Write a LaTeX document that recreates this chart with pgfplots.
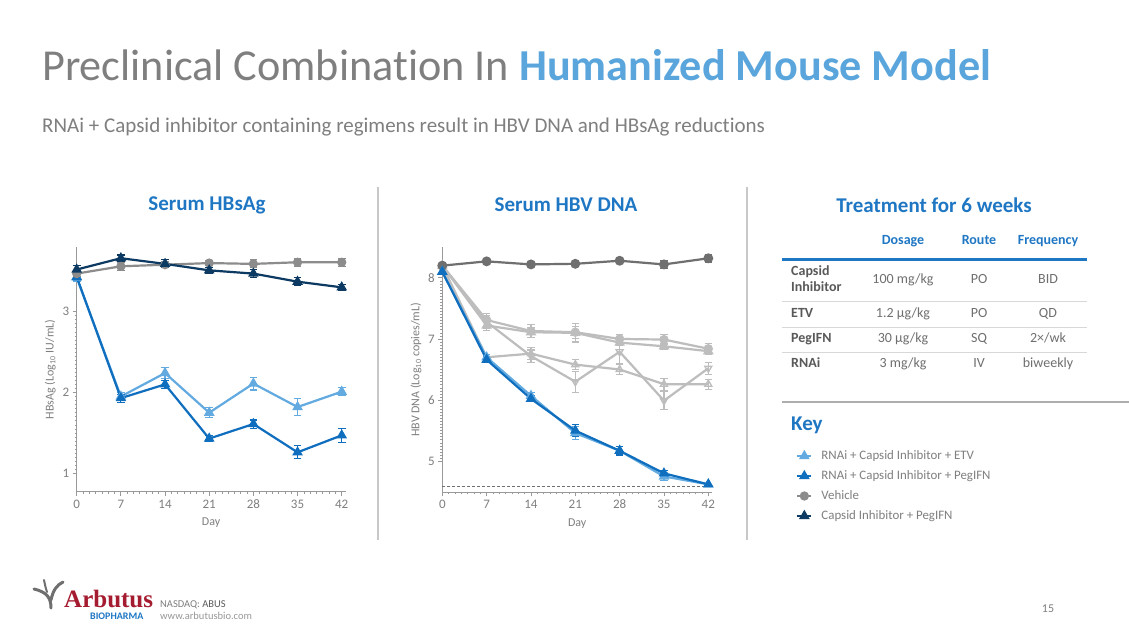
\documentclass[border=0pt]{standalone}
\usepackage{fontspec}
\setmainfont{Carlito}[Ligatures=NoCommon]
\newfontfamily\logoserif{Liberation Serif}
\usepackage{pgfplots}
\pgfplotsset{compat=1.18}
\usepackage{pgfplotstable}

\definecolor{titlegray}{HTML}{7F7F7F}
\definecolor{titleblue}{HTML}{5AA6DC}
\definecolor{headblue}{HTML}{1F77C4}
\definecolor{etvblue}{HTML}{62AAE0}
\definecolor{pegblue}{HTML}{0F6EBE}
\definecolor{navy}{HTML}{0D3A63}
\definecolor{vehgray}{HTML}{8C8C8C}
\definecolor{vehdark}{HTML}{6F6F6F}
\definecolor{ltgray}{HTML}{BDBDBD}
\definecolor{txtgray}{HTML}{7F7F7F}
\definecolor{tabgray}{HTML}{6F6F6F}
\definecolor{rowgray}{HTML}{595959}
\definecolor{axgray}{HTML}{999999}
\definecolor{sepgray}{HTML}{C8C8C8}
\definecolor{arbred}{HTML}{A51C30}
\definecolor{arbblue}{HTML}{1F77C4}

% HBsAg data
\pgfplotstableread{
x y e
0 3.47 0.04
7 3.56 0.05
14 3.58 0.04
21 3.60 0.03
28 3.59 0.05
35 3.61 0.05
42 3.61 0.05
}\sVeh
\pgfplotstableread{
x y e
0 3.52 0.05
7 3.66 0.04
14 3.59 0.05
21 3.51 0.04
28 3.47 0.05
35 3.37 0.05
42 3.30 0.04
}\sCIP
\pgfplotstableread{
x y e
0 3.42 0.05
7 1.95 0.05
14 2.24 0.07
21 1.75 0.06
28 2.11 0.08
35 1.82 0.10
42 2.01 0.05
}\sETV
\pgfplotstableread{
x y e
0 3.43 0.05
7 1.93 0.05
14 2.10 0.05
21 1.43 0.04
28 1.61 0.05
35 1.26 0.08
42 1.47 0.09
}\sPEG

% HBV DNA data
\pgfplotstableread{
x y e
0 8.20 0.02
7 8.27 0.02
14 8.22 0.02
21 8.23 0.02
28 8.28 0.03
35 8.22 0.06
42 8.32 0.06
}\dVeh
\pgfplotstableread{
x y e
0 8.20 0.02
7 7.31 0.10
14 7.13 0.10
21 7.11 0.10
28 7.00 0.08
35 6.99 0.08
42 6.84 0.08
}\dGa
\pgfplotstableread{
x y e
0 8.20 0.02
7 7.22 0.08
14 7.11 0.08
21 7.10 0.15
28 6.94 0.05
35 6.88 0.05
42 6.80 0.05
}\dGb
\pgfplotstableread{
x y e
0 8.20 0.02
7 6.70 0.05
14 6.76 0.10
21 6.58 0.08
28 6.50 0.08
35 6.26 0.10
42 6.26 0.08
}\dGc
\pgfplotstableread{
x y e
0 8.20 0.02
7 7.28 0.10
14 6.72 0.10
21 6.30 0.17
28 6.79 0.20
35 5.99 0.15
42 6.52 0.10
}\dGd
\pgfplotstableread{
x y e
0 8.10 0.05
7 6.70 0.05
14 6.07 0.06
21 5.46 0.10
28 5.17 0.07
35 4.75 0.06
42 4.62 0.00
}\dETV
\pgfplotstableread{
x y e
0 8.10 0.05
7 6.66 0.05
14 6.02 0.05
21 5.50 0.10
28 5.17 0.07
35 4.80 0.05
42 4.62 0.00
}\dPEG

\pgfplotsset{
  myax/.style={
    scale only axis,
    axis lines=left,
    axis line style={draw=axgray, line width=1pt, -},
    xmin=0, xmax=42.6,
    xtick={0,7,14,21,28,35,42},
    minor x tick num=6,
    minor y tick num=19,
    tick align=outside,
    major tick style={draw=axgray, line width=0.9pt},
    minor tick style={draw=axgray, line width=0.6pt},
    major tick length=4pt, minor tick length=2pt,
    ticklabel style={font=\fontsize{13}{13}\selectfont, text=txtgray},
    xticklabel style={anchor=north, text height=9pt, text depth=0pt},
    /pgf/number format/assume math mode=true,
    label style={font=\fontsize{12}{12}\selectfont, text=txtgray},
    xlabel={Day},
    xlabel style={yshift=-3pt},
    clip=false,
    legend image code/.code={\draw[mark repeat=2,mark phase=2,##1] plot coordinates {(0pt,0pt) (7pt,0pt) (14pt,0pt)};},
  },
  ser/.style={line width=2.2pt, mark size=4pt,
    error bars/y dir=both, error bars/y explicit,
    error bars/error bar style={line width=1.1pt},
    error bars/error mark options={line width=1.1pt, mark size=3.8pt, rotate=90}},
}

\begin{document}
\begin{tikzpicture}[x=1pt,y=-1pt]
\useasboundingbox (0,0) rectangle (1129,635);
\fill[white] (0,0) rectangle (1129,635);

% Titles
\node[anchor=base west, inner sep=0pt, text=titlegray, font=\fontsize{44.2}{46}\selectfont] at (42,80)
  {Preclinical Combination In \textcolor{titleblue}{\bfseries Humanized Mouse Model}};
\node[anchor=base west, inner sep=0pt, text=titlegray, font=\fontsize{21}{22}\selectfont] at (42,132)
  {RNAi + Capsid inhibitor containing regimens result in HBV DNA and HBsAg reductions};

% section headings
\node[text=headblue, font=\bfseries\fontsize{21}{22}\selectfont] at (207,205) {Serum HBsAg};
\node[text=headblue, font=\bfseries\fontsize{21}{22}\selectfont] at (566,205) {Serum HBV DNA};
\node[text=headblue, font=\bfseries\fontsize{21}{22}\selectfont] at (934,205) {Treatment for 6 weeks};

% separators
\draw[sepgray, line width=1.5pt] (378,187) -- (378,540);
\draw[sepgray, line width=1.5pt] (747,187) -- (747,540);

% Left chart
\begin{axis}[myax, at={(76.7pt,-491.7pt)}, anchor=south west,
  width=268.8pt, height=244.4pt,
  ymin=0.773, ymax=3.795, ytick={1,2,3},
  ylabel={HBsAg (Log\textsubscript{10} IU/mL)},
  legend style={at={(2.665,0.0233)}, anchor=west, draw=none, fill=none,
    font=\fontsize{12.9}{13}\selectfont, text=txtgray, row sep=5.5pt,
    /tikz/every odd column/.append style={column sep=7pt}},
  legend cell align=left]
\addplot[ser, etvblue, mark=triangle*] table[x=x,y=y,y error=e] {\sETV};
\addlegendentry{RNAi + Capsid Inhibitor + ETV}
\addplot[ser, pegblue, mark=triangle*] table[x=x,y=y,y error=e] {\sPEG};
\addlegendentry{RNAi + Capsid Inhibitor + PegIFN}
\addplot[ser, vehgray, mark=*, mark size=3.5pt] table[x=x,y=y,y error=e] {\sVeh};
\addlegendentry{Vehicle}
\addplot[ser, navy, mark=triangle*] table[x=x,y=y,y error=e] {\sCIP};
\addlegendentry{Capsid Inhibitor + PegIFN}
\end{axis}

% Middle chart
\begin{axis}[myax, at={(442.3pt,-492.3pt)}, anchor=south west,
  width=269.8pt, height=245pt,
  ymin=4.49, ymax=8.50, ytick={5,6,7,8},
  ylabel={HBV DNA (Log\textsubscript{10} copies/mL)}]
\addplot[densely dashed, vehdark, line width=1pt, forget plot] coordinates {(0,4.59) (42,4.59)};
\addplot[ser, ltgray, mark=*, mark size=3.5pt] table[x=x,y=y,y error=e] {\dGa};
\addplot[ser, ltgray, mark=triangle*] table[x=x,y=y,y error=e] {\dGb};
\addplot[ser, ltgray, mark=triangle, mark options={fill=white, line width=1.3pt}] table[x=x,y=y,y error=e] {\dGc};
\addplot[ser, ltgray, mark=triangle, mark options={fill=white, line width=1.3pt, rotate=180}] table[x=x,y=y,y error=e] {\dGd};
\addplot[ser, vehdark, mark=*, mark size=3.8pt] table[x=x,y=y,y error=e] {\dVeh};
\addplot[ser, etvblue, mark=triangle*] table[x=x,y=y,y error=e] {\dETV};
\addplot[ser, pegblue, mark=triangle*] table[x=x,y=y,y error=e] {\dPEG};
\end{axis}

% Table
\begin{scope}[every node/.style={anchor=mid, inner sep=0pt}]
\node[text=headblue, font=\bfseries\fontsize{14}{15}\selectfont] at (903,242) {Dosage};
\node[text=headblue, font=\bfseries\fontsize{14}{15}\selectfont] at (979,242) {Route};
\node[text=headblue, font=\bfseries\fontsize{14}{15}\selectfont] at (1048,242) {Frequency};
\draw[headblue, line width=3pt] (782,259) -- (1087,259);
\draw[sepgray!70, line width=1pt] (782,301) -- (1087,301);
\draw[sepgray!70, line width=1pt] (782,327) -- (1087,327);
\draw[sepgray!70, line width=1pt] (782,352) -- (1087,352);
\begin{scope}[every node/.append style={font=\bfseries\fontsize{14}{15}\selectfont, text=rowgray, anchor=mid west}]
\node at (791,273) {Capsid};
\node at (791,289.5) {Inhibitor};
\node at (791,315) {ETV};
\node at (791,340) {PegIFN};
\node at (791,365.5) {RNAi};
\end{scope}
\begin{scope}[every node/.append style={font=\fontsize{14}{15}\selectfont, text=tabgray}]
\node at (903,281.5) {100 mg/kg};
\node at (979,281.5) {PO};
\node at (1048,281.5) {BID};
\node at (903,315) {1.2 µg/kg};
\node at (979,315) {PO};
\node at (1048,315) {QD};
\node at (903,340) {30 µg/kg};
\node at (979,340) {SQ};
\node at (1048,340) {2×/wk};
\node at (903,365.5) {3 mg/kg};
\node at (979,365.5) {IV};
\node at (1048,365.5) {biweekly};
\end{scope}
\end{scope}

\draw[axgray!80, line width=1.5pt] (782,402) -- (1129,402);
\node[anchor=mid west, inner sep=0pt, text=headblue, font=\bfseries\fontsize{21}{22}\selectfont] at (791,428) {Key};

% Footer / logo
\begin{scope}[line cap=round]
\draw[vehdark, line width=3pt] (51,608) .. controls (51,598) and (47,592) .. (34,589);
\draw[vehdark, line width=3pt] (51,600) .. controls (53,590) and (57,585) .. (63,582);
\draw[vehdark, line width=2pt] (44,580) .. controls (45,585) and (46,589) .. (47,592);
\end{scope}
\node[anchor=base west, inner sep=0pt, text=arbred, font=\logoserif\bfseries\fontsize{25}{26}\selectfont] at (64,607) {Arbutus};
\node[anchor=base west, inner sep=0pt, text=arbblue, font=\bfseries\fontsize{10}{10}\selectfont] at (90,619) {BIOPHARMA};
\node[anchor=base west, inner sep=0pt, text=txtgray, font=\fontsize{10.5}{11}\selectfont] at (160,607) {NASDAQ: \textcolor{rowgray}{ABUS}};
\node[anchor=base west, inner sep=0pt, text=txtgray!80, font=\fontsize{10.5}{11}\selectfont] at (160,619) {www.arbutusbio.com};
\node[anchor=mid, inner sep=0pt, text=txtgray, font=\fontsize{12}{13}\selectfont] at (1048,610) {15};
\end{tikzpicture}
\end{document}
